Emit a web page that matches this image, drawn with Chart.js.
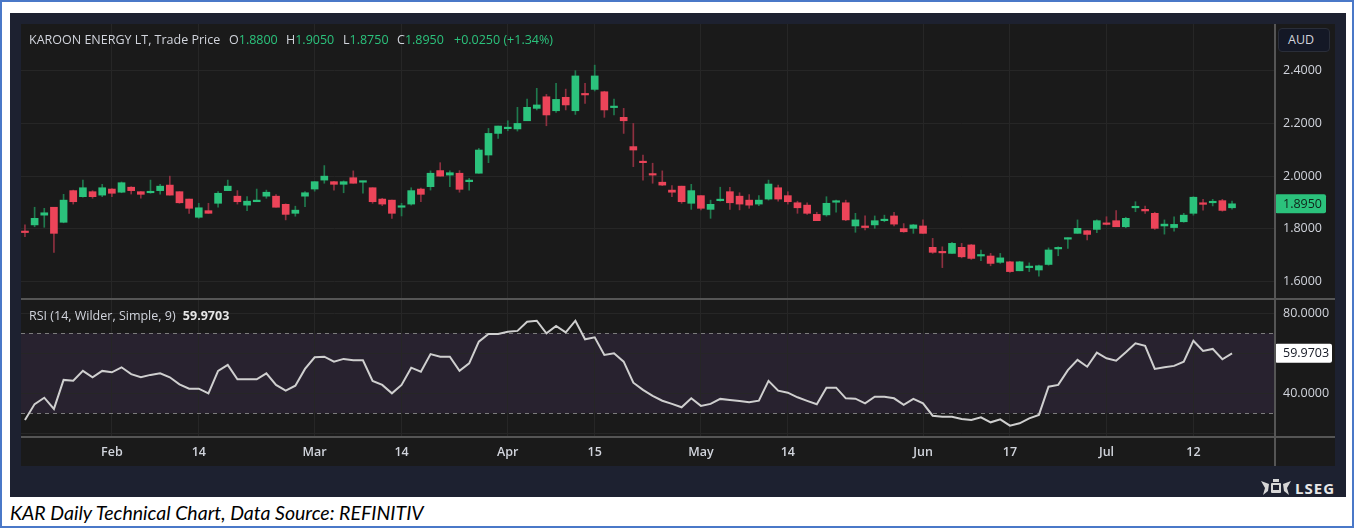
<!DOCTYPE html>
<html>
<head>
<meta charset="utf-8">
<script src="https://cdn.jsdelivr.net/npm/chart.js@4.4.1/dist/chart.umd.min.js"></script>
<style>
  html, body { margin: 0; padding: 0; background: #fff; }
  #page { position: relative; width: 1354px; height: 528px; overflow: hidden; font-family: "Open Sans", sans-serif; }
  #border { position: absolute; left: 0; top: 0; width: 1350px; height: 524px; border: 2px solid #4a78c8; }
  #frame { position: absolute; left: 10px; top: 13px; width: 1336px; height: 484px; background: #1d2130; }
  #inner { position: absolute; left: 21px; top: 24px; width: 1314px; height: 442px; background: #1a1a1a; }
  canvas { position: absolute; }
  .hline { position: absolute; left: 21px; width: 1314px; height: 2px; background: #555; }
  .vline { position: absolute; left: 1274px; top: 24px; width: 2px; height: 442px; background: #555; }
  .txt { position: absolute; font-size: 12.5px; color: #d1d4dc; white-space: nowrap; line-height: 16px; }
  .g { color: #2bc27c; }
  #aud { position: absolute; left: 1278px; top: 28px; width: 52px; height: 24px; box-sizing: border-box;
         background: #141826; border: 1px solid #2a2e39; border-radius: 4px; color: #d1d4dc;
         font-size: 12.5px; line-height: 22px; padding-left: 9px; }
  #lseg { position: absolute; left: 1295px; top: 478px; color: #e8e8e8; font-weight: 700; font-size: 15px; letter-spacing: 1px; }
  #crest { position: absolute; left: 1260px; top: 479px; }
  #caption { position: absolute; left: 10px; top: 501px; font-family: Lato, "Liberation Sans", sans-serif;
             font-style: italic; font-size: 19.5px; color: #000; white-space: nowrap; }
</style>
</head>
<body>
<div id="page">
  <div id="border"></div>
  <div id="frame"></div>
  <div id="inner"></div>
  <canvas id="priceChart" width="1314" height="275" style="left:21px;top:24px;width:1314px;height:275px"></canvas>
  <canvas id="rsiChart" width="1314" height="166" style="left:21px;top:300px;width:1314px;height:166px"></canvas>
  <div class="hline" style="top:298px"></div>
  <div class="hline" style="top:436px"></div>
  <div class="vline"></div>

  <div class="txt" style="left:29px;top:32px">KAROON ENERGY LT, Trade Price</div>
  <div class="txt" id="hO" style="left:229px;top:32px"></div>
  <div class="txt" id="hH" style="left:286px;top:32px"></div>
  <div class="txt" id="hL" style="left:343px;top:32px"></div>
  <div class="txt" id="hC" style="left:397px;top:32px"></div>
  <div class="txt g" id="hChg" style="left:454px;top:32px"></div>
  <div class="txt" style="left:29px;top:308px">RSI (14, Wilder, Simple, 9) <b id="rsiVal" style="margin-left:4px;color:#e6e6e6"></b></div>
  <div id="aud">AUD</div>

  <svg id="crest" width="32" height="17" viewBox="0 0 32 17">
    <g fill="#d6d6d6">
      <path d="M1 2 L9 5 L8 12 L3 16 L5 9 Z"/>
      <path d="M31 2 L23 5 L24 12 L29 16 L27 9 Z"/>
      <rect x="11" y="4" width="10" height="10" rx="1"/>
      <rect x="13" y="0" width="6" height="3"/>
    </g>
    <rect x="13" y="6" width="6" height="5" fill="#1d2130"/>
  </svg>
  <div id="lseg">LSEG</div>

  <div id="caption">KAR Daily Technical Chart, Data Source: REFINITIV</div>
</div>

<script>
// Daily candles, 18 Jan - 18 Jul (ASX trading days)
const opens = [1.791,1.815,1.852,1.882,1.825,1.945,1.922,1.941,1.928,1.951,
  1.939,1.958,1.941,1.937,1.945,1.966,1.941,1.913,1.844,1.869,
  1.897,1.945,1.924,1.890,1.903,1.924,1.924,1.893,1.859,1.924,
  1.951,1.985,1.979,1.969,1.994,1.977,1.956,1.913,1.909,1.882,
  1.894,1.951,1.960,2.021,2.004,2.011,1.979,2.011,2.080,2.162,
  2.180,2.179,2.210,2.257,2.301,2.248,2.299,2.248,2.312,2.329,
  2.320,2.260,2.223,2.112,2.053,2.006,1.977,1.947,1.962,1.897,
  1.926,1.874,1.907,1.941,1.924,1.909,1.894,1.913,1.956,1.926,
  1.899,1.890,1.855,1.853,1.901,1.899,1.811,1.811,1.815,1.831,
  1.849,1.801,1.802,1.811,1.730,1.711,1.707,1.730,1.739,1.697,
  1.697,1.673,1.675,1.641,1.653,1.644,1.665,1.724,1.761,1.783,
  1.793,1.798,1.819,1.831,1.808,1.880,1.874,1.859,1.811,1.805,
  1.827,1.859,1.899,1.899,1.907,1.880];
const highs = [1.815,1.882,1.878,1.882,1.931,1.947,1.985,1.945,1.969,1.953,
  1.978,1.960,1.941,1.985,1.969,2.000,1.941,1.913,1.897,1.897,
  1.941,1.985,1.945,1.922,1.951,1.947,1.930,1.895,1.886,1.941,
  1.979,2.040,1.980,1.982,2.020,1.981,1.956,1.916,1.909,1.897,
  1.956,1.955,2.020,2.051,2.020,2.021,1.992,2.105,2.181,2.190,
  2.210,2.261,2.292,2.333,2.310,2.352,2.330,2.400,2.352,2.421,
  2.322,2.292,2.257,2.200,2.080,2.049,2.020,1.964,1.962,1.969,
  1.926,1.909,1.958,1.958,1.937,1.930,1.926,1.985,1.966,1.941,
  1.905,1.899,1.863,1.922,1.909,1.909,1.859,1.849,1.849,1.852,
  1.863,1.820,1.817,1.834,1.764,1.732,1.749,1.745,1.741,1.720,
  1.707,1.707,1.677,1.677,1.671,1.663,1.728,1.732,1.766,1.834,
  1.794,1.834,1.846,1.869,1.844,1.903,1.886,1.863,1.834,1.846,
  1.859,1.922,1.912,1.912,1.912,1.905];
const lows = [1.770,1.808,1.806,1.711,1.823,1.894,1.920,1.916,1.922,1.922,
  1.937,1.932,1.916,1.935,1.932,1.928,1.897,1.859,1.840,1.859,
  1.882,1.945,1.894,1.869,1.903,1.916,1.882,1.834,1.848,1.884,
  1.943,1.973,1.947,1.937,1.973,1.935,1.897,1.888,1.840,1.849,
  1.890,1.903,1.947,2.000,1.960,1.939,1.947,2.011,2.051,2.143,
  2.172,2.171,2.210,2.251,2.191,2.242,2.251,2.234,2.276,2.323,
  2.223,2.232,2.162,2.036,1.985,1.973,1.964,1.922,1.897,1.874,
  1.872,1.840,1.905,1.874,1.872,1.878,1.888,1.909,1.905,1.894,
  1.859,1.855,1.831,1.848,1.863,1.831,1.787,1.796,1.802,1.827,
  1.811,1.787,1.783,1.783,1.707,1.653,1.707,1.690,1.684,1.679,
  1.660,1.669,1.635,1.641,1.638,1.621,1.662,1.698,1.726,1.783,
  1.758,1.786,1.815,1.808,1.804,1.865,1.859,1.798,1.780,1.791,
  1.825,1.852,1.871,1.887,1.867,1.875];
const closes = [1.786,1.840,1.861,1.783,1.909,1.903,1.956,1.922,1.956,1.935,
  1.975,1.945,1.931,1.939,1.962,1.928,1.899,1.878,1.880,1.859,
  1.935,1.962,1.903,1.905,1.909,1.939,1.882,1.855,1.871,1.937,
  1.979,2.000,1.969,1.979,1.973,1.979,1.903,1.894,1.859,1.886,
  1.945,1.931,2.011,2.000,2.013,1.950,1.985,2.099,2.162,2.190,
  2.183,2.200,2.261,2.270,2.232,2.291,2.270,2.380,2.308,2.380,
  2.251,2.263,2.210,2.099,2.051,2.004,1.966,1.939,1.903,1.945,
  1.878,1.893,1.909,1.899,1.894,1.890,1.909,1.970,1.913,1.903,
  1.880,1.859,1.831,1.897,1.905,1.834,1.834,1.805,1.831,1.834,
  1.818,1.789,1.815,1.783,1.711,1.709,1.745,1.694,1.688,1.698,
  1.669,1.690,1.638,1.675,1.655,1.660,1.720,1.728,1.763,1.802,
  1.779,1.831,1.817,1.808,1.840,1.882,1.868,1.802,1.818,1.817,
  1.852,1.920,1.893,1.901,1.870,1.895];
const rsi = [26.7,34.6,37.8,32.2,46.7,46.3,51.2,48,51.2,50.5,
  53,49.6,48,49.2,50,48,44.5,42.3,42.3,40,
  51.2,54.2,47,47,47,50,44.2,41.3,43.8,52.2,
  58,58.3,55.8,57.2,56.5,56.5,46.2,44.2,40,44.2,
  52.8,50.8,59.6,58.3,58.3,51.3,55,65.8,69.7,69.7,
  70.8,71.2,75.8,76.3,70,73.7,70.5,76.3,67,68,
  59.2,60,55.8,45.3,41.7,38.7,36.3,34.7,33,37.5,
  33.7,34.7,37.2,36.7,36.2,35.5,36.3,46.2,41.3,40.3,
  38,36.2,34.5,42.8,42.8,37.5,37.3,35,38.3,38.3,
  37.5,34.2,37.2,35,28.8,28.3,28.3,27.2,26.7,28,
  25.5,27,23.8,25,27.5,29.2,43.3,44.2,51.6,56.7,
  53.3,60.3,57.5,56.3,60.5,65,63.7,52.2,53,53.7,
  55.8,66.3,61.2,62.2,57,59.9703];

// time axis ticks (index of trading day) and their labels
const tickIdx = [9, 18, 30, 39, 50, 59, 70, 79, 93, 102, 112, 121];
const tickLabels = ['Feb', '14', 'Mar', '14', 'Apr', '15', 'May', '14', 'Jun', '17', 'Jul', '12'];
const priceTicks = [1.6, 1.8, 2.0, 2.2, 2.4];
const rsiTicks = [20, 40, 60, 80];
const rsiLabelTicks = [40, 80];
const rsiBand = [30, 70];

const GREEN = '#2bc27c', RED = '#ec4459';
const GREEN_WICK = '#1f7a4e', RED_WICK = '#8e3040';
const TEXT = '#d1d4dc';
const FONT = { family: '"Open Sans", sans-serif', size: 12.5 };

// header from the last candle
const n = closes.length - 1;
const fmt = v => v.toFixed(4);
document.getElementById('hO').innerHTML = 'O<span class="g">' + fmt(opens[n]) + '</span>';
document.getElementById('hH').innerHTML = 'H<span class="g">' + fmt(highs[n]) + '</span>';
document.getElementById('hL').innerHTML = 'L<span class="g">' + fmt(lows[n]) + '</span>';
document.getElementById('hC').innerHTML = 'C<span class="g">' + fmt(closes[n]) + '</span>';
const chg = closes[n] - closes[n - 1];
document.getElementById('hChg').textContent = '+' + fmt(chg) + ' (+' + (chg / closes[n - 1] * 100).toFixed(2) + '%)';
document.getElementById('rsiVal').textContent = rsi[n].toFixed(4);

function xAxis(showLabels) {
    return {
        type: 'linear',
        min: -0.41,
        max: 129.45,
        offset: false,
        afterBuildTicks: s => { s.ticks = tickIdx.map(v => ({ value: v })); },
        grid: { color: '#262626', drawTicks: false, offset: false },
        border: { display: false },
        ticks: {
            display: showLabels,
            autoSkip: false,
            maxRotation: 0,
            color: TEXT,
            font: { ...FONT, weight: '600' },
            padding: 8,
            callback: v => tickLabels[tickIdx.indexOf(v)]
        },
        afterFit: s => { s.height = showLabels ? 29 : 0; s.paddingLeft = 0; s.paddingRight = 0; }
    };
}

function valueTag(ctx, chart, value, text, bg, fg) {
    const y = chart.scales.y.getPixelForValue(value);
    const x = chart.chartArea.right;
    ctx.save();
    ctx.fillStyle = bg;
    ctx.beginPath();
    ctx.roundRect(x, y - 9.5, bg === '#ffffff' ? 57 : 51, 19, 2);
    ctx.fill();
    ctx.fillStyle = fg;
    ctx.font = '12.5px "Open Sans", sans-serif';
    ctx.textBaseline = 'middle';
    ctx.fillText(text, x + 8, y + 0.5);
    ctx.restore();
}

// Price chart: candles made of floating bars (wick + body)
const wickData = lows.map((l, i) => ({ x: i, y: [l, highs[i]] }));
const bodyData = opens.map((o, i) => ({ x: i, y: [o, closes[i]] }));
const up = closes.map((c, i) => c >= opens[i]);

new Chart(document.getElementById('priceChart'), {
    type: 'bar',
    data: {
        datasets: [{
            data: wickData,
            backgroundColor: up.map(u => u ? GREEN_WICK : RED_WICK),
            barThickness: 1,
            grouped: false,
            order: 2
        }, {
            data: bodyData,
            backgroundColor: up.map(u => u ? GREEN : RED),
            barThickness: 7,
            minBarLength: 1.5,
            grouped: false,
            order: 1
        }]
    },
    options: {
        responsive: false,
        animation: false,
        layout: { padding: 0 },
        plugins: { legend: { display: false }, tooltip: { enabled: false } },
        scales: {
            x: xAxis(false),
            y: {
                position: 'right',
                min: 1.534,
                max: 2.577,
                afterBuildTicks: s => { s.ticks = priceTicks.map(v => ({ value: v })); },
                grid: { color: '#262626', drawTicks: false },
                border: { display: false },
                ticks: { color: TEXT, font: FONT, padding: 8, callback: v => v.toFixed(4) },
                afterFit: s => { s.width = 60; s.paddingTop = 0; s.paddingBottom = 0; }
            }
        }
    },
    plugins: [{
        id: 'lastPrice',
        afterDraw: chart => valueTag(chart.ctx, chart, closes[n], fmt(closes[n]), GREEN, '#10231a')
    }]
});

// RSI chart
new Chart(document.getElementById('rsiChart'), {
    type: 'line',
    data: {
        datasets: [{
            data: rsi.map((v, i) => ({ x: i, y: v })),
            borderColor: '#cfcfcf',
            borderWidth: 2,
            pointRadius: 0,
            tension: 0
        }]
    },
    options: {
        responsive: false,
        animation: false,
        layout: { padding: 0 },
        plugins: { legend: { display: false }, tooltip: { enabled: false } },
        scales: {
            x: xAxis(true),
            y: {
                position: 'right',
                min: 18.15,
                max: 86.65,
                afterBuildTicks: s => { s.ticks = rsiTicks.map(v => ({ value: v })); },
                grid: { color: '#262626', drawTicks: false },
                border: { display: false },
                ticks: {
                    color: TEXT, font: FONT, padding: 8,
                    callback: v => rsiLabelTicks.includes(v) ? v.toFixed(4) : ''
                },
                afterFit: s => { s.width = 60; s.paddingTop = 0; s.paddingBottom = 0; }
            }
        }
    },
    plugins: [{
        id: 'rsiBand',
        beforeDraw: chart => {
            const { ctx, chartArea: a, scales: { y } } = chart;
            const top = y.getPixelForValue(rsiBand[1]), bot = y.getPixelForValue(rsiBand[0]);
            ctx.save();
            ctx.fillStyle = '#28222f';
            ctx.fillRect(a.left, top, a.right - a.left, bot - top);
            ctx.restore();
        },
        beforeDatasetsDraw: chart => {
            const { ctx, chartArea: a, scales: { y } } = chart;
            ctx.save();
            ctx.strokeStyle = '#7c7c7c';
            ctx.lineWidth = 1;
            ctx.setLineDash([4, 4]);
            rsiBand.forEach(v => {
                const py = Math.round(y.getPixelForValue(v)) + 0.5;
                ctx.beginPath();
                ctx.moveTo(a.left, py);
                ctx.lineTo(a.right, py);
                ctx.stroke();
            });
            ctx.restore();
        },
        afterDraw: chart => valueTag(chart.ctx, chart, rsi[n], rsi[n].toFixed(4), '#ffffff', '#131722')
    }]
});
</script>
</body>
</html>
